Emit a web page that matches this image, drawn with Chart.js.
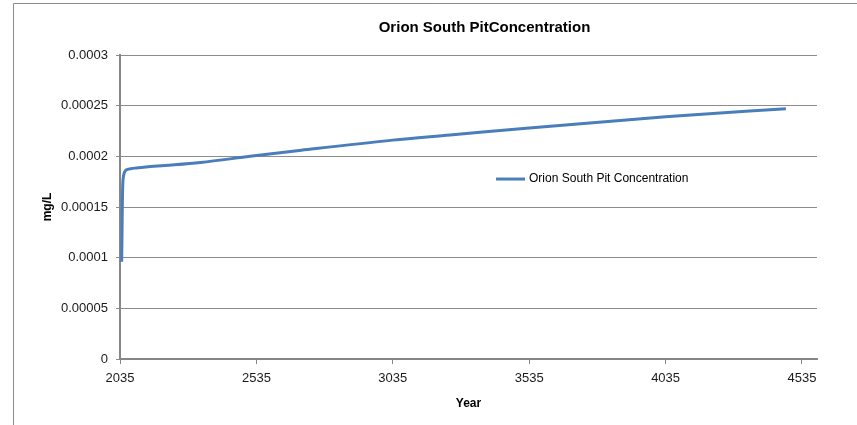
<!DOCTYPE html>
<html>
<head>
<meta charset="utf-8">
<script src="https://cdn.jsdelivr.net/npm/chart.js@4/dist/chart.umd.min.js"></script>
<style>
  html, body { margin: 0; padding: 0; background: #fff; }
  #wrap { width: 857px; height: 425px; position: relative; }
</style>
</head>
<body>
<div id="wrap"><canvas id="c"></canvas></div>
<script>
const chartTitle = 'Orion South PitConcentration';
const seriesName = 'Orion South Pit Concentration';
const xAxisTitle = 'Year';
const yAxisTitle = 'mg/L';

const years = [2041, 2042, 2043, 2044, 2045, 2047, 2050, 2055, 2062, 2075, 2095, 2130, 2200, 2330, 2512, 2700, 3035, 3245, 3535, 4035, 4476];
const concentration = [0.000096, 0.000115, 0.000140, 0.000160, 0.000172, 0.000179, 0.000183, 0.000186, 0.000187, 0.0001878, 0.0001885, 0.0001895, 0.000191, 0.000194, 0.000200, 0.000206, 0.000216, 0.000221, 0.000228, 0.000239, 0.000247];

const xTicks = [2035, 2535, 3035, 3535, 4035, 4535];
const yTickLabels = ['0', '0.00005', '0.0001', '0.00015', '0.0002', '0.00025', '0.0003'];

const lineColor = '#4A7EBB';

Chart.defaults.font.family = "'Liberation Sans', Arial, sans-serif";
Chart.defaults.color = '#1a1a1a';

const framePlugin = {
  id: 'frame',
  beforeDraw(chart) {
    const ctx = chart.ctx;
    ctx.save();
    ctx.fillStyle = '#fff';
    ctx.fillRect(0, 0, chart.width, chart.height);
    ctx.strokeStyle = '#8c8c8c';
    ctx.lineWidth = 1;
    ctx.beginPath();
    ctx.moveTo(13.5, chart.height);
    ctx.lineTo(13.5, 3.5);
    ctx.lineTo(chart.width, 3.5);
    ctx.stroke();
    ctx.restore();
  }
};

const titlePlugin = {
  id: 'excelTitle',
  afterDraw(chart) {
    const ctx = chart.ctx;
    ctx.save();
    ctx.font = "bold 15px 'Liberation Sans', Arial, sans-serif";
    ctx.fillStyle = '#000';
    ctx.textAlign = 'center';
    ctx.textBaseline = 'middle';
    const a = chart.chartArea;
    ctx.fillText(chartTitle, a.left + (a.right - a.left) * 0.523, 28);
    ctx.restore();
  }
};

const legendPlugin = {
  id: 'excelLegend',
  afterDatasetsDraw(chart) {
    const ctx = chart.ctx;
    const a = chart.chartArea;
    const ds = chart.data.datasets[0];
    const x0 = a.left + (a.right - a.left) * 0.5395;
    const y0 = a.top + (a.bottom - a.top) * 0.408;
    ctx.save();
    ctx.strokeStyle = ds.borderColor;
    ctx.lineWidth = 3;
    ctx.beginPath();
    ctx.moveTo(x0, y0);
    ctx.lineTo(x0 + 29, y0);
    ctx.stroke();
    ctx.font = "12px 'Liberation Sans', Arial, sans-serif";
    ctx.fillStyle = '#000';
    ctx.textAlign = 'left';
    ctx.textBaseline = 'middle';
    ctx.fillText(ds.label, x0 + 33, y0);
    ctx.restore();
  }
};

new Chart(document.getElementById('c'), {
  type: 'scatter',
  data: {
    datasets: [{
      label: seriesName,
      data: years.map((y, i) => ({ x: y, y: concentration[i] })),
      showLine: true,
      borderColor: lineColor,
      backgroundColor: lineColor,
      borderWidth: 3,
      pointRadius: 0,
      pointHoverRadius: 0,
      cubicInterpolationMode: 'monotone',
      fill: false
    }]
  },
  options: {
    responsive: true,
    maintainAspectRatio: false,
    animation: false,
    events: [],
    layout: { padding: { top: 55, right: 40, bottom: 14, left: 0 } },
    plugins: {
      legend: { display: false },
      title: { display: false },
      tooltip: { enabled: false }
    },
    scales: {
      x: {
        type: 'linear',
        min: 2035,
        max: 4590,
        afterBuildTicks(scale) { scale.ticks = xTicks.map(v => ({ value: v })); },
        ticks: {
          font: { size: 13 },
          padding: 7,
          maxRotation: 0,
          autoSkip: false,
          callback: (v) => String(v)
        },
        grid: {
          drawOnChartArea: false,
          drawTicks: true,
          tickLength: 5,
          color: '#868686',
          lineWidth: 1
        },
        border: { display: true, color: '#868686', width: 2 },
        title: {
          display: true,
          text: xAxisTitle,
          font: { size: 12, weight: 'bold' },
          color: '#000',
          padding: { top: 3, bottom: 0 }
        }
      },
      y: {
        min: 0,
        max: 0.0003,
        afterFit(scale) { scale.width = 120; },
        ticks: {
          stepSize: 0.00005,
          font: { size: 13 },
          padding: 8,
          callback: (v, i) => yTickLabels[i]
        },
        grid: {
          color: '#8c8c8c',
          lineWidth: 1,
          tickLength: 4,
          drawTicks: true
        },
        border: { display: true, color: '#868686', width: 2 },
        title: {
          display: true,
          text: yAxisTitle,
          font: { size: 12, weight: 'bold' },
          color: '#000',
          padding: { top: 40, bottom: 0 }
        }
      }
    }
  },
  plugins: [framePlugin, titlePlugin, legendPlugin]
});
</script>
</body>
</html>
